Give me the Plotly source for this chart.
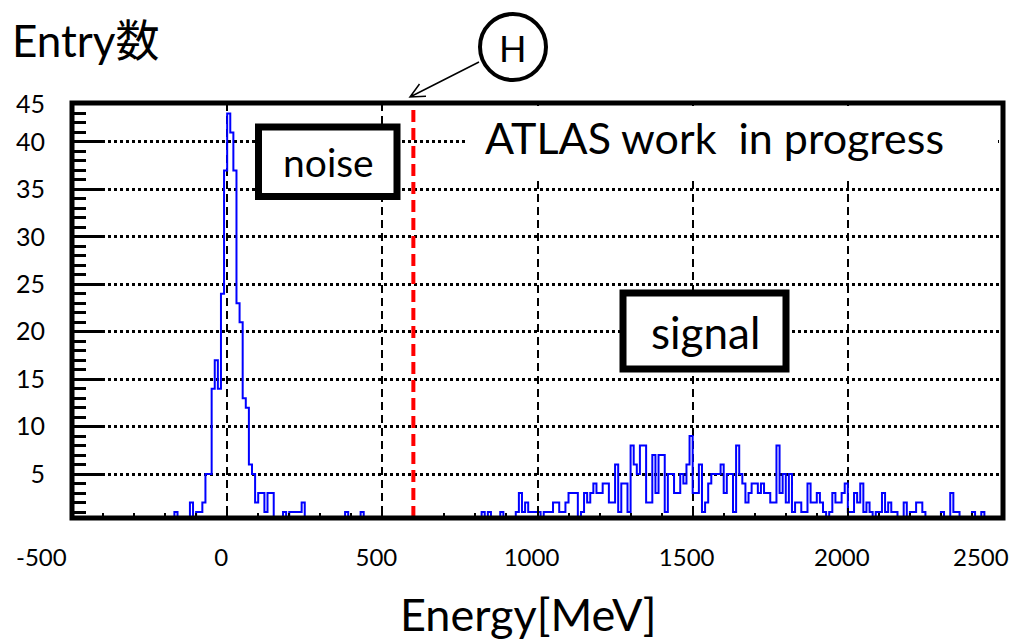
import numpy as np
import plotly.graph_objects as go

# ---------------- data (10 MeV bins from -500 to 2500 MeV) ----------------
BIN_LO, BIN_HI, BIN_W = -500, 2500, 10

# non-empty bins: lower bin edge [MeV] and entries
noise_edges = [-170, -120, -100, -90, -80, -70, -60, -50, -40, -30, -20, -10, 0, 10, 20,
               30, 40, 50, 60, 70, 80, 90, 100, 110, 120, 130, 140, 180, 200, 210, 220,
               230, 240, 380, 430]
noise_counts = [1, 2, 1, 1, 2, 5, 5, 14, 17, 14, 24, 37, 43, 41, 37,
                23, 21, 13, 12, 6, 5, 2, 3, 3, 1, 3, 3, 1, 1, 1, 1,
                1, 2, 1, 1]

signal_edges = [820, 840, 880, 930, 940, 950, 960, 970, 980, 990, 1000, 1020, 1030, 1040,
                1050, 1060, 1070, 1080, 1090, 1100, 1110, 1120, 1140, 1150, 1160, 1170,
                1180, 1190, 1200, 1210, 1220, 1230, 1240, 1250, 1260, 1270, 1280, 1290,
                1300, 1310, 1320, 1330, 1340, 1350, 1360, 1370, 1380, 1390, 1400, 1410,
                1420, 1430, 1440, 1450, 1460, 1470, 1480, 1490, 1500, 1510, 1520, 1530,
                1540, 1550, 1560, 1570, 1580, 1590, 1600, 1610, 1620, 1630, 1640, 1650,
                1660, 1670, 1680, 1690, 1700, 1710, 1720, 1730, 1740, 1750, 1760, 1770,
                1780, 1790, 1800, 1810, 1820, 1830, 1840, 1850, 1860, 1870, 1880, 1890,
                1900, 1910, 1920, 1940, 1950, 1960, 1970, 1980, 1990, 2000, 2010, 2020,
                2030, 2040, 2050, 2060, 2070, 2090, 2100, 2110, 2120, 2130, 2140, 2150,
                2180, 2200, 2210, 2220, 2230, 2240, 2300, 2330, 2340, 2350, 2400, 2430]
signal_counts = [1, 1, 1, 1, 3, 1, 2, 1, 1, 1, 1, 1, 1, 1,
                 2, 2, 1, 1, 2, 3, 3, 3, 1, 3, 2, 3,
                 4, 3, 3, 4, 4, 2, 2, 6, 1, 4, 4, 1,
                 8, 6, 5, 8, 8, 2, 2, 7, 3, 7, 7, 1,
                 5, 5, 3, 3, 5, 4, 6, 9, 3, 3, 6, 1,
                 2, 4, 5, 5, 5, 6, 3, 5, 5, 1, 8, 5,
                 4, 2, 3, 4, 4, 3, 4, 3, 3, 2, 2, 8,
                 3, 5, 2, 5, 1, 2, 2, 1, 1, 4, 2, 2,
                 3, 2, 1, 1, 3, 2, 2, 3, 4, 1, 1, 3,
                 2, 4, 1, 2, 1, 1, 1, 3, 1, 2, 1, 1,
                 2, 1, 1, 2, 2, 1, 1, 3, 1, 1, 1, 1]

threshold_mev = 600  # red dashed cut line "H"

x_tickvals = [-500, 0, 500, 1000, 1500, 2000, 2500]
x_ticktext = ["-500", "0", "500", "1000", "1500", "2000", "2500"]
y_tickvals = [5, 10, 15, 20, 25, 30, 35, 40, 44.0]
y_ticktext = ["5", "10", "15", "20", "25", "30", "35", "40", "45"]

# ---------------- build histogram ----------------
nbins = (BIN_HI - BIN_LO) // BIN_W
counts = np.zeros(nbins)
for e, c in zip(noise_edges + signal_edges, noise_counts + signal_counts):
    counts[(e - BIN_LO) // BIN_W] = c
edges = np.arange(BIN_LO, BIN_HI + BIN_W, BIN_W)
ystep = np.append(counts, counts[-1])

# ---------------- layout geometry ----------------
# the page body has an 8px margin, so the figure is drawn 8px in from the window edge
OFF = 8
FW, FH = 1021 - OFF, 641 - OFF
L, R, T, B = 72 - OFF, 18, 103 - OFF, 123
W = FW - L - R
H = FH - T - B


def fx(p):  # window pixel x -> paper
    return (p - OFF - L) / W


def fy(p):  # window pixel y -> paper
    return (OFF + FH - B - p) / H


FONT = "Lato, 'Noto Sans CJK JP', sans-serif"

fig = go.Figure()
fig.add_trace(go.Scatter(
    x=edges, y=ystep, mode="lines", line=dict(color="#0000ff", width=2, shape="hv"),
    showlegend=False, hoverinfo="skip"))

shapes = []
# white area behind the ATLAS label
shapes.append(dict(type="rect", xref="paper", yref="paper", x0=fx(468), x1=fx(998),
                   y0=fy(178), y1=fy(106), fillcolor="white", line=dict(width=0),
                   layer="above"))
# red dashed threshold line
shapes.append(dict(type="line", xref="x", yref="paper", x0=threshold_mev, x1=threshold_mev,
                   y0=0, y1=1, line=dict(color="#ff0000", width=4, dash="12px,6px"),
                   layer="above"))
# noise and signal boxes
shapes.append(dict(type="rect", xref="paper", yref="paper", x0=fx(258.5), x1=fx(397),
                   y0=fy(196.5), y1=fy(127), fillcolor="white",
                   line=dict(color="black", width=7), layer="above"))
shapes.append(dict(type="rect", xref="paper", yref="paper", x0=fx(623), x1=fx(786),
                   y0=fy(369), y1=fy(293), fillcolor="white",
                   line=dict(color="black", width=7), layer="above"))
# frame
shapes.append(dict(type="rect", xref="paper", yref="paper", x0=0, x1=1, y0=0, y1=1,
                   line=dict(color="black", width=5), layer="above"))
# circle H
shapes.append(dict(type="circle", xref="paper", yref="paper", x0=fx(480), x1=fx(546),
                   y0=fy(80), y1=fy(14), line=dict(color="black", width=4),
                   fillcolor="white", layer="above"))
# arrow from circle to the cut line
hx, hy = 410, 97
tx, ty = 479, 62
a1 = (426, 96.3)
a2 = (419.5, 84)
path = (f"M {fx(tx)} {fy(ty)} L {fx(hx)} {fy(hy)} "
        f"M {fx(a1[0])} {fy(a1[1])} L {fx(hx)} {fy(hy)} L {fx(a2[0])} {fy(a2[1])}")
shapes.append(dict(type="path", xref="paper", yref="paper", path=path,
                   line=dict(color="black", width=1.5), layer="above"))

TICKFONT = dict(size=24, family=FONT, color="black")
annotations = [
    dict(text="Entry数", x=fx(10), y=fy(40), xanchor="left", yanchor="middle",
         font=dict(size=44, family=FONT, color="black")),
    dict(text="Energy[MeV]", x=fx(528), y=fy(614), xanchor="center", yanchor="middle",
         font=dict(size=45, family=FONT, color="black")),
    dict(text="ATLAS work\u00a0 in progress", x=fx(714), y=fy(137), xanchor="center",
         yanchor="middle", font=dict(size=43, family=FONT, color="black")),
    dict(text="noise", x=fx(328), y=fy(162), xanchor="center", yanchor="middle",
         font=dict(size=39, family=FONT, color="black")),
    dict(text="signal", x=fx(705), y=fy(332), xanchor="center", yanchor="middle",
         font=dict(size=44, family=FONT, color="black")),
    dict(text="H", x=fx(513), y=fy(48), xanchor="center", yanchor="middle",
         font=dict(size=36, family=FONT, color="black")),
    # end labels of the energy axis sit off-centre in the original
    dict(text=x_ticktext[0], x=fx(14), y=fy(556), xanchor="left", yanchor="middle",
         font=TICKFONT),
    dict(text=x_ticktext[-1], x=fx(1011), y=fy(556), xanchor="right", yanchor="middle",
         font=TICKFONT),
]
for a in annotations:
    a.update(xref="paper", yref="paper", showarrow=False)

fig.update_layout(
    width=FW, height=FH,
    margin=dict(l=L, r=R, t=T, b=B, pad=0, autoexpand=False),
    plot_bgcolor="white", paper_bgcolor="white",
    shapes=shapes, annotations=annotations,
    showlegend=False,
    font=dict(family=FONT, color="black"),
    xaxis=dict(
        range=[BIN_LO, BIN_HI], tickmode="array", tickvals=x_tickvals,
        ticktext=[""] + x_ticktext[1:-1] + [""],
        ticks="inside", ticklen=10, tickwidth=2, tickcolor="black",
        tickfont=TICKFONT, ticklabelstandoff=23,
        ticklabelshift=-6, ticklabeloverflow="allow", automargin=False,
        showgrid=True, gridcolor="black", gridwidth=1.5, griddash="8px,5px",
        zeroline=False, showline=False,
        minor=dict(dtick=100, tick0=0, ticks="inside", ticklen=5, tickwidth=2,
                   tickcolor="black", showgrid=False),
    ),
    yaxis=dict(
        range=[0.37, 44.1], tickmode="array", tickvals=y_tickvals, ticktext=y_ticktext,
        ticks="inside", ticklen=30, tickwidth=3, tickcolor="black",
        tickfont=dict(size=25, family=FONT, color="black"), ticklabelstandoff=26,
        ticklabeloverflow="allow", automargin=False,
        showgrid=True, gridcolor="black", gridwidth=2.5, griddash="3px,3px",
        zeroline=False, showline=False,
        minor=dict(dtick=1, tick0=0, ticks="inside", ticklen=14, tickwidth=3,
                   tickcolor="black", showgrid=False),
    ),
)

fig.write_html("out.html")
